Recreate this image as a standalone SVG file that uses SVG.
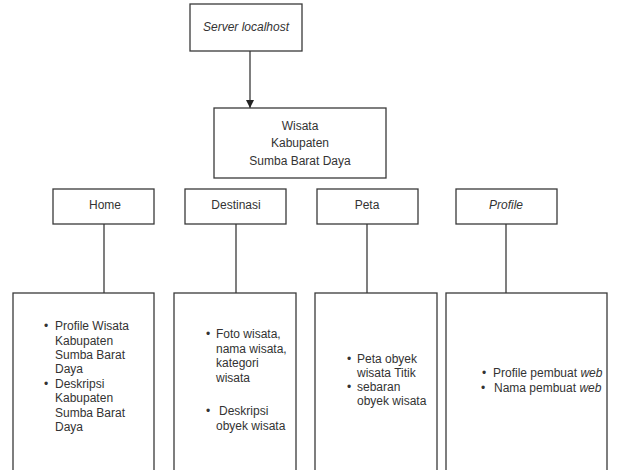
<svg xmlns="http://www.w3.org/2000/svg" width="617" height="470" viewBox="0 0 617 470">
<style>
.box{fill:#fff;stroke:#3a3a3a;stroke-width:1.3}
.ln{stroke:#3a3a3a;stroke-width:1.3;fill:none}
text{font-family:"Liberation Sans",Arial,sans-serif;font-size:12px;fill:#333}
.c{text-anchor:middle}
.i{font-style:italic}
</style>
<defs>
<marker id="arr" viewBox="0 0 10 10" refX="10" refY="5" markerWidth="8" markerHeight="8" markerUnits="userSpaceOnUse" orient="auto">
<path d="M0,0 L10,5 L0,10 z" fill="#222"/>
</marker>
<clipPath id="clipR"><rect x="446" y="293" width="161" height="177"/></clipPath>
</defs>
<rect width="617" height="470" fill="#fff"/>
<g id="connectors">
<line class="ln" x1="250" y1="51" x2="250" y2="108" marker-end="url(#arr)"/>
<line class="ln" x1="104" y1="224" x2="104" y2="293"/>
<line class="ln" x1="236" y1="224" x2="236" y2="293"/>
<line class="ln" x1="367" y1="224" x2="367" y2="293"/>
<line class="ln" x1="506" y1="224" x2="506" y2="293"/>
</g>
<g id="server">
<rect class="box" x="190" y="4" width="112" height="47"/>
<text class="c i" x="246" y="31">Server localhost</text>
</g>
<g id="wisata">
<rect class="box" x="214" y="108" width="172" height="70"/>
<text class="c" x="300" y="130">Wisata</text>
<text class="c" x="300" y="147">Kabupaten</text>
<text class="c" x="300" y="165">Sumba Barat Daya</text>
</g>
<g id="home">
<rect class="box" x="53" y="189" width="101" height="35"/>
<text class="c" x="105" y="209">Home</text>
</g>
<g id="destinasi">
<rect class="box" x="185" y="189" width="101" height="35"/>
<text class="c" x="236" y="209">Destinasi</text>
</g>
<g id="peta">
<rect class="box" x="317" y="189" width="101" height="35"/>
<text class="c" x="367" y="209">Peta</text>
</g>
<g id="profile">
<rect class="box" x="456" y="189" width="101" height="35"/>
<text class="c i" x="506" y="209">Profile</text>
</g>
<g id="home-content">
<rect class="box" x="13" y="293" width="141" height="190"/>
<text x="44" y="330">•</text>
<text x="55" y="330">Profile Wisata</text>
<text x="55" y="344.5">Kabupaten</text>
<text x="55" y="359">Sumba Barat</text>
<text x="55" y="373">Daya</text>
<text x="44" y="388">•</text>
<text x="55" y="388">Deskripsi</text>
<text x="55" y="402">Kabupaten</text>
<text x="55" y="417">Sumba Barat</text>
<text x="55" y="431">Daya</text>
</g>
<g id="destinasi-content">
<rect class="box" x="174" y="293" width="122" height="190"/>
<text x="206" y="338">•</text>
<text x="216" y="338">Foto wisata,</text>
<text x="216" y="353">nama wisata,</text>
<text x="216" y="367">kategori</text>
<text x="216" y="382">wisata</text>
<text x="206" y="415">•</text>
<text x="219" y="415">Deskripsi</text>
<text x="216" y="430">obyek wisata</text>
</g>
<g id="peta-content">
<rect class="box" x="315" y="293" width="122" height="190"/>
<text x="347" y="363">•</text>
<text x="357" y="363">Peta obyek</text>
<text x="357" y="377">wisata Titik</text>
<text x="347" y="391">•</text>
<text x="357" y="391">sebaran</text>
<text x="357" y="405">obyek wisata</text>
</g>
<g id="profile-content">
<rect class="box" x="446" y="293" width="161" height="190"/>
<g clip-path="url(#clipR)">
<text x="482" y="377">•</text>
<text x="493" y="377">Profile pembuat <tspan class="i">web</tspan></text>
<text x="481" y="392">•</text>
<text x="494" y="392">Nama  pembuat <tspan class="i">web</tspan></text>
</g>
</g>
</svg>
